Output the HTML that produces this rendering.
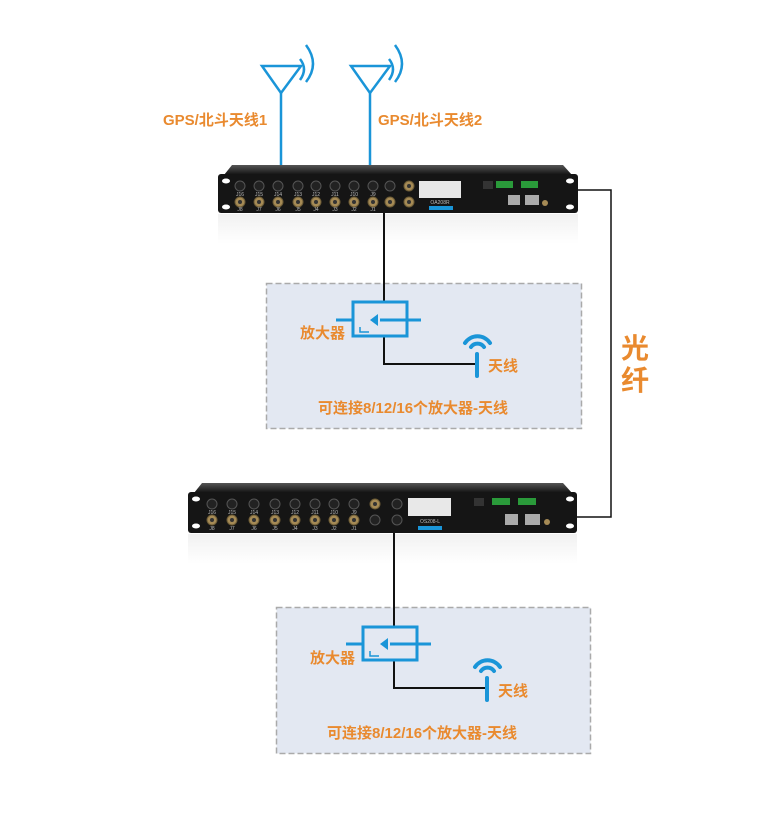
<!DOCTYPE html>
<html><head><meta charset="utf-8"><style>
html,body{margin:0;padding:0;background:#fff;}
svg{display:block}
text{font-family:"Liberation Sans","Noto Sans CJK SC",sans-serif;font-weight:bold;fill:#e98a2f}
text.s{font-size:5px;fill:#bbb;font-weight:normal}
</style></head><body>
<svg width="780" height="818" viewBox="0 0 780 818" xmlns="http://www.w3.org/2000/svg">
<defs>
<linearGradient id="top" x1="0" y1="0" x2="0" y2="1"><stop offset="0" stop-color="#555"/><stop offset="1" stop-color="#111"/></linearGradient>
<linearGradient id="refl" x1="0" y1="0" x2="0" y2="1"><stop offset="0" stop-color="#f1f1f1"/><stop offset="1" stop-color="#fff"/></linearGradient>
<g id="port"><circle r="5" fill="#222" stroke="#555" stroke-width="1"/></g>
<g id="sma"><circle r="5" fill="#a58a55" stroke="#6b5a35"/><circle r="2" fill="#333"/></g>
</defs>

<!-- top antennas -->
<g stroke="#1a95d8" stroke-width="2.5" fill="none">
<polygon points="262,66 301,66 281,93"/>
<line x1="281" y1="93" x2="281" y2="166"/>
<path d="M300,59 Q308,69 300,80"/>
<path d="M306,45 Q320,64 306,82"/>
<polygon points="351,66 390,66 370,93"/>
<line x1="370" y1="93" x2="370" y2="166"/>
<path d="M389,59 Q397,69 389,80"/>
<path d="M395,45 Q409,64 395,82"/>
</g>
<text x="163" y="125" font-size="15">GPS/北斗天线1</text>
<text x="378" y="125" font-size="15">GPS/北斗天线2</text>

<!-- fiber -->
<polyline points="578,190 611,190 611,517 577,517" fill="none" stroke="#111" stroke-width="1.5"/>
<text x="621" y="358" font-size="28" font-weight="normal">光</text>
<text x="621" y="390" font-size="28" font-weight="normal">纤</text>

<!-- device 1 -->
<rect x="218" y="214" width="360" height="30" fill="url(#refl)"/>
<polygon points="232,165 563,165 572,175 224,175" fill="url(#top)"/>
<rect x="218" y="174" width="360" height="39" rx="3" fill="#151515"/>
<ellipse cx="226" cy="181" rx="4" ry="2.5" fill="#fff"/><ellipse cx="226" cy="207" rx="4" ry="2.5" fill="#fff"/>
<ellipse cx="570" cy="181" rx="4" ry="2.5" fill="#fff"/><ellipse cx="570" cy="207" rx="4" ry="2.5" fill="#fff"/>
<g>
<use href="#port" x="240" y="186"/><use href="#port" x="259" y="186"/><use href="#port" x="278" y="186"/><use href="#port" x="298" y="186"/><use href="#port" x="316" y="186"/><use href="#port" x="335" y="186"/><use href="#port" x="354" y="186"/><use href="#port" x="373" y="186"/><use href="#port" x="390" y="186"/><use href="#sma" x="409" y="186"/>
<use href="#sma" x="240" y="202"/><use href="#sma" x="259" y="202"/><use href="#sma" x="278" y="202"/><use href="#sma" x="298" y="202"/><use href="#sma" x="316" y="202"/><use href="#sma" x="335" y="202"/><use href="#sma" x="354" y="202"/><use href="#sma" x="373" y="202"/><use href="#sma" x="390" y="202"/><use href="#sma" x="409" y="202"/>
</g>
<g text-anchor="middle">
<text class="s" x="240" y="196">J16</text><text class="s" x="259" y="196">J15</text><text class="s" x="278" y="196">J14</text><text class="s" x="298" y="196">J13</text><text class="s" x="316" y="196">J12</text><text class="s" x="335" y="196">J11</text><text class="s" x="354" y="196">J10</text><text class="s" x="373" y="196">J9</text>
<text class="s" x="240" y="211">J8</text><text class="s" x="259" y="211">J7</text><text class="s" x="278" y="211">J6</text><text class="s" x="298" y="211">J5</text><text class="s" x="316" y="211">J4</text><text class="s" x="335" y="211">J3</text><text class="s" x="354" y="211">J2</text><text class="s" x="373" y="211">J1</text>
<text class="s" x="440" y="204">OA208R</text>
</g>
<rect x="419" y="181" width="42" height="17" fill="#e8e8e8"/>
<rect x="483" y="181" width="10" height="8" fill="#333"/>
<rect x="496" y="181" width="17" height="7" fill="#2a9a3a"/><rect x="521" y="181" width="17" height="7" fill="#2a9a3a"/>
<rect x="508" y="195" width="12" height="10" fill="#aaa"/><rect x="525" y="195" width="14" height="10" fill="#aaa"/>
<circle cx="545" cy="203" r="3" fill="#a58a55"/>
<rect x="429" y="206" width="24" height="4" fill="#1a95d8"/>

<!-- box 1 -->
<rect x="266.5" y="283.5" width="315" height="145" fill="#e3e8f2" stroke="#aaa" stroke-width="1.5" stroke-dasharray="6,3"/>
<polyline points="384,213 384,302" fill="none" stroke="#111" stroke-width="2"/>
<polyline points="384,336 384,364 478,364" fill="none" stroke="#111" stroke-width="2"/>
<g stroke="#1a95d8" stroke-width="3" fill="none">
<rect x="353" y="302" width="54" height="34"/>
<line x1="336" y1="320" x2="353" y2="320"/><line x1="407" y1="320" x2="421" y2="320"/>
<line x1="380" y1="320" x2="407" y2="320"/>
<polyline points="360,327 360,332 369,332" stroke-width="1.5"/>
<path d="M465,343 A15,15 0 0 1 490,343" stroke-width="4" stroke-linecap="round"/>
<path d="M471,347 A8,8 0 0 1 484,347" stroke-width="4" stroke-linecap="round"/>
<line x1="477" y1="354" x2="477" y2="376" stroke-width="4" stroke-linecap="round"/>
</g>
<polygon points="378,314 378,326 370,320" fill="#1a95d8"/>
<text x="300" y="338" font-size="15">放大器</text>
<text x="488" y="371" font-size="15">天线</text>
<text x="318" y="413" font-size="15">可连接8/12/16个放大器-天线</text>

<!-- device 2 -->
<rect x="188" y="534" width="389" height="30" fill="url(#refl)"/>
<polygon points="202,483 563,483 572,493 194,493" fill="url(#top)"/>
<rect x="188" y="492" width="389" height="41" rx="3" fill="#151515"/>
<ellipse cx="196" cy="499" rx="4" ry="2.5" fill="#fff"/><ellipse cx="196" cy="526" rx="4" ry="2.5" fill="#fff"/>
<ellipse cx="570" cy="499" rx="4" ry="2.5" fill="#fff"/><ellipse cx="570" cy="526" rx="4" ry="2.5" fill="#fff"/>
<g>
<use href="#port" x="212" y="504"/><use href="#port" x="232" y="504"/><use href="#port" x="254" y="504"/><use href="#port" x="275" y="504"/><use href="#port" x="295" y="504"/><use href="#port" x="315" y="504"/><use href="#port" x="334" y="504"/><use href="#port" x="354" y="504"/><use href="#sma" x="375" y="504"/><use href="#port" x="397" y="504"/>
<use href="#sma" x="212" y="520"/><use href="#sma" x="232" y="520"/><use href="#sma" x="254" y="520"/><use href="#sma" x="275" y="520"/><use href="#sma" x="295" y="520"/><use href="#sma" x="315" y="520"/><use href="#sma" x="334" y="520"/><use href="#sma" x="354" y="520"/><use href="#port" x="375" y="520"/><use href="#port" x="397" y="520"/>
</g>
<g text-anchor="middle">
<text class="s" x="212" y="514">J16</text><text class="s" x="232" y="514">J15</text><text class="s" x="254" y="514">J14</text><text class="s" x="275" y="514">J13</text><text class="s" x="295" y="514">J12</text><text class="s" x="315" y="514">J11</text><text class="s" x="334" y="514">J10</text><text class="s" x="354" y="514">J9</text>
<text class="s" x="212" y="530">J8</text><text class="s" x="232" y="530">J7</text><text class="s" x="254" y="530">J6</text><text class="s" x="275" y="530">J5</text><text class="s" x="295" y="530">J4</text><text class="s" x="315" y="530">J3</text><text class="s" x="334" y="530">J2</text><text class="s" x="354" y="530">J1</text>
<text class="s" x="430" y="523">OS208-L</text>
</g>
<rect x="408" y="498" width="43" height="18" fill="#e8e8e8"/>
<rect x="474" y="498" width="10" height="8" fill="#333"/>
<rect x="492" y="498" width="18" height="7" fill="#2a9a3a"/><rect x="518" y="498" width="18" height="7" fill="#2a9a3a"/>
<rect x="505" y="514" width="13" height="11" fill="#aaa"/><rect x="525" y="514" width="15" height="11" fill="#aaa"/>
<circle cx="547" cy="522" r="3" fill="#a58a55"/>
<rect x="418" y="526" width="24" height="4" fill="#1a95d8"/>

<!-- box 2 -->
<rect x="276.5" y="607.5" width="314" height="146" fill="#e3e8f2" stroke="#aaa" stroke-width="1.5" stroke-dasharray="6,3"/>
<polyline points="394,533 394,627" fill="none" stroke="#111" stroke-width="2"/>
<polyline points="394,660 394,688 488,688" fill="none" stroke="#111" stroke-width="2"/>
<g stroke="#1a95d8" stroke-width="3" fill="none">
<rect x="363" y="627" width="54" height="33"/>
<line x1="346" y1="644" x2="363" y2="644"/><line x1="417" y1="644" x2="431" y2="644"/>
<line x1="390" y1="644" x2="417" y2="644"/>
<polyline points="370,651 370,656 379,656" stroke-width="1.5"/>
<path d="M475,667 A15,15 0 0 1 500,667" stroke-width="4" stroke-linecap="round"/>
<path d="M481,671 A8,8 0 0 1 494,671" stroke-width="4" stroke-linecap="round"/>
<line x1="487" y1="678" x2="487" y2="700" stroke-width="4" stroke-linecap="round"/>
</g>
<polygon points="388,638 388,650 380,644" fill="#1a95d8"/>
<text x="310" y="663" font-size="15">放大器</text>
<text x="498" y="696" font-size="15">天线</text>
<text x="327" y="738" font-size="15">可连接8/12/16个放大器-天线</text>
</svg>
</body></html>
